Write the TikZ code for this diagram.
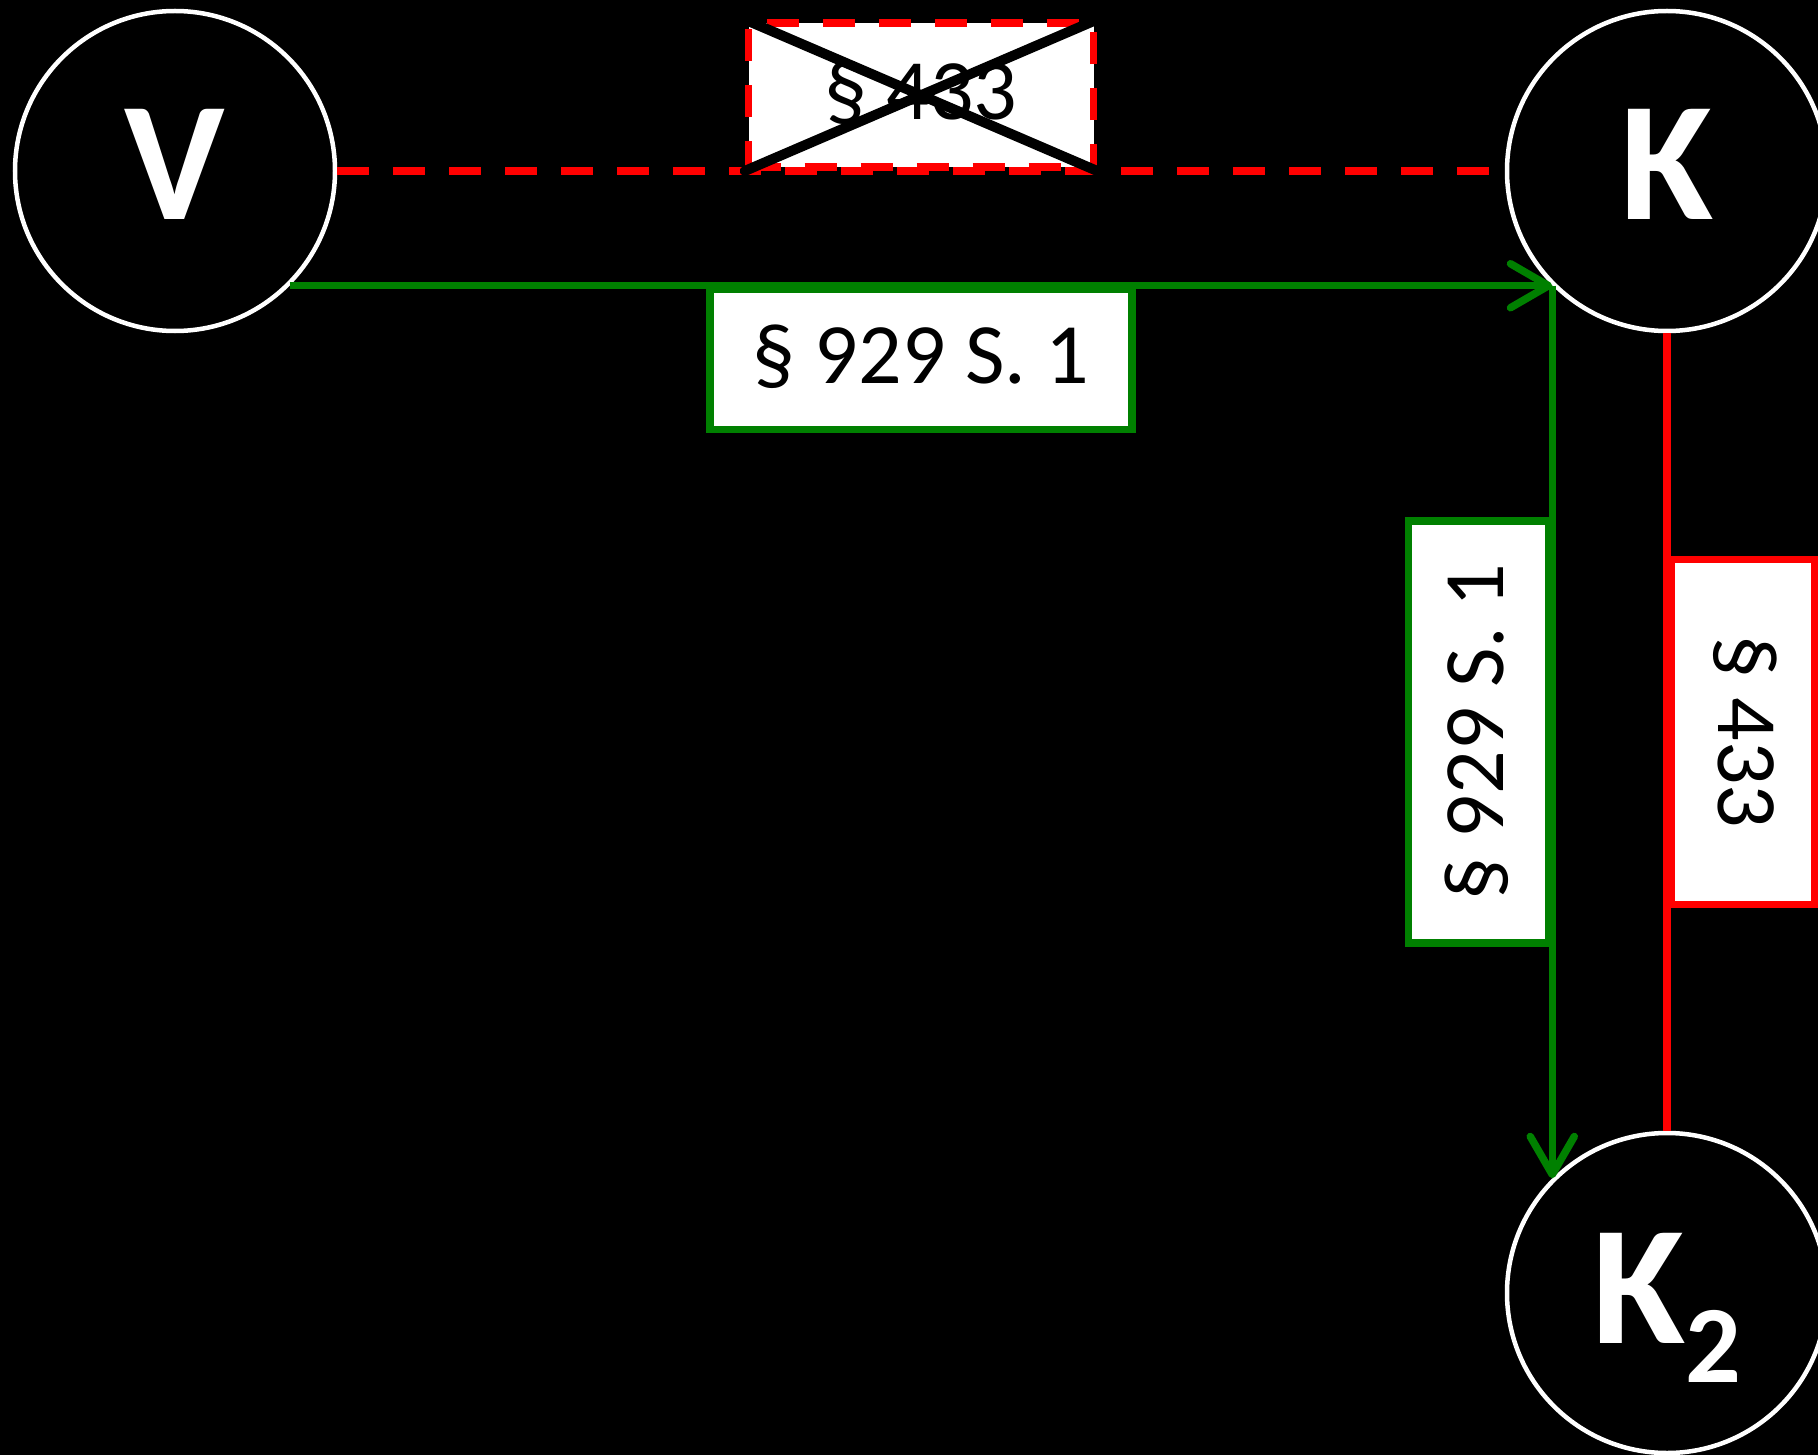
\documentclass[tikz,border=0pt]{standalone}
\usepackage{fontspec}
\setmainfont{Carlito}
\usetikzlibrary{arrows.meta}
\definecolor{lgreen}{RGB}{0,128,0}
\definecolor{lred}{RGB}{255,0,0}
\begin{document}
\begin{tikzpicture}[x=1pt,y=-1pt,
  party/.style={circle, draw=white, fill=black, line width=4.5pt, minimum size=320pt, inner sep=0pt, text=white, font=\fontsize{170}{170}\selectfont\bfseries, text height=108pt, text depth=10pt},
  lbl/.style={fill=white, line width=7.5pt, inner sep=0pt, text=black, font=\fontsize{86}{86}\selectfont, text height=55pt, text depth=6pt},
  glabel/.style={lbl, draw=lgreen, solid, minimum width=422pt, minimum height=140pt},
  rlabel/.style={lbl, draw=lred, minimum width=345pt, minimum height=144pt},
  garrow/.style={draw=lgreen, line width=7.5pt, -{Straight Barb[length=38pt,width=44pt,round]}},
  ]
\fill[black] (0,0) rectangle (1818,1455);
\useasboundingbox (0,0) rectangle (1818,1455);
\node[party] (V) at (175,171) {V};
\node[party] (K) at (1667,171) {K};
\node[party, text depth=8pt] (K2) at (1667,1293) {K\raisebox{-39pt}{\fontsize{110}{110}\selectfont 2}};
% dashed, crossed out relation
\draw[lred, line width=8pt, dash pattern=on 32pt off 24pt] (V) -- (K)
  node[midway, anchor=south, rlabel, dash pattern=on 32pt off 24pt] (x433) {§ 433};
\draw[black, line width=10pt, line cap=round] (x433.north west) -- (x433.south east)
  (x433.north east) -- (x433.south west);
% green transfers
\draw[garrow] (V.south east) -- (K.south west)
  node[midway, anchor=north, glabel] (g1) {§ 929 S. 1};
\draw[garrow] (K.south west) -- (K2.north west)
  node[midway, anchor=south, rotate=90, glabel] (g2) {§ 929 S. 1};
% red assignment
\draw[lred, line width=7.5pt] (K) -- (K2)
  node[midway, anchor=south, rotate=-90, rlabel, solid] (r2) {§ 433};
\end{tikzpicture}
\end{document}
